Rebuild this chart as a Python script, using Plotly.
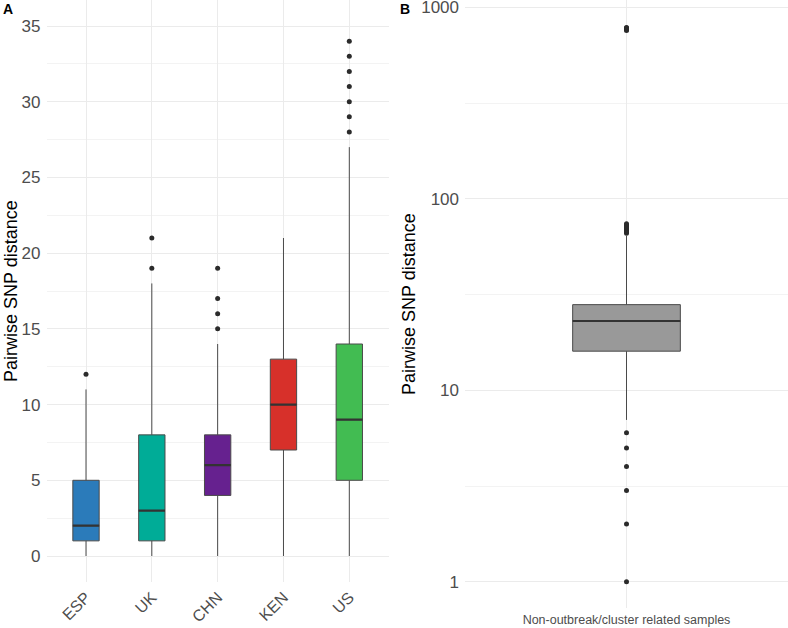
import plotly.graph_objects as go

# ---------------- Panel A data ----------------
countries = ["ESP", "UK", "CHN", "KEN", "US"]
q1_a = [1, 1, 4, 7, 5]
median_a = [2, 3, 6, 10, 9]
q3_a = [5, 8, 8, 13, 14]
whisker_low_a = [0, 0, 0, 0, 0]
whisker_high_a = [11, 18, 14, 21, 27]
outliers_esp = [12]
outliers_uk = [19, 21]
outliers_chn = [15, 16, 17, 19]
outliers_ken = []
outliers_us = [28, 29, 30, 31, 32, 33, 34]
box_colors = ["#2B7BBA", "#00AC97", "#66218F", "#D7302A", "#42BC52"]
y_ticks_a = [0, 5, 10, 15, 20, 25, 30, 35]

# ---------------- Panel B data ----------------
b_category = ["Non-outbreak/cluster related samples"]
q1_b = [16]
median_b = [23]
q3_b = [28]
whisker_low_b = [7]
whisker_high_b = [64]
outliers_b = [1, 2, 3, 4, 5, 6, 66, 67, 68, 69, 70, 71, 72, 73, 74,
              756, 765, 772, 780, 785]
y_ticks_b = [1, 10, 100, 1000]
y_tick_text_b = ["1", "10", "100", "1000"]

FONT = "Liberation Sans, Arial, sans-serif"
W, H = 788, 628
MT, MB = 0, 20
PH = H - MT - MB
TICK_COL = "#4d4d4d"
GRID = "#ebebeb"
LINE_COL = "#4a4a4a"

fig = go.Figure()

outliers_a = [outliers_esp, outliers_uk, outliers_chn, outliers_ken, outliers_us]

# Panel A boxes
for i, c in enumerate(countries):
    fig.add_trace(go.Box(
        x=[c], q1=[q1_a[i]], median=[median_a[i]], q3=[q3_a[i]],
        lowerfence=[whisker_low_a[i]], upperfence=[whisker_high_a[i]],
        width=0.4, whiskerwidth=0, boxpoints=False,
        fillcolor=box_colors[i], line=dict(color=LINE_COL, width=1),
        xaxis="x", yaxis="y", showlegend=False, hoverinfo="skip"))
# thicker medians (A)
fig.add_trace(go.Box(
    x=countries, q1=median_a, median=median_a, q3=median_a,
    lowerfence=median_a, upperfence=median_a,
    width=0.4, whiskerwidth=0, boxpoints=False,
    fillcolor="rgba(0,0,0,0)", line=dict(color="#333333", width=2.2),
    xaxis="x", yaxis="y", showlegend=False, hoverinfo="skip"))
# outliers (A)
ox, oy = [], []
for c, vals in zip(countries, outliers_a):
    for v in vals:
        ox.append(c)
        oy.append(v)
fig.add_trace(go.Scatter(
    x=ox, y=oy, mode="markers",
    marker=dict(color="#2b2b2b", size=5),
    xaxis="x", yaxis="y", showlegend=False, hoverinfo="skip"))

# Panel B box
fig.add_trace(go.Box(
    x=b_category, q1=q1_b, median=median_b, q3=q3_b,
    lowerfence=whisker_low_b, upperfence=whisker_high_b,
    width=0.4, whiskerwidth=0, boxpoints=False,
    fillcolor="#999999", line=dict(color=LINE_COL, width=1),
    xaxis="x2", yaxis="y2", showlegend=False, hoverinfo="skip"))
fig.add_trace(go.Box(
    x=b_category, q1=median_b, median=median_b, q3=median_b,
    lowerfence=median_b, upperfence=median_b,
    width=0.4, whiskerwidth=0, boxpoints=False,
    fillcolor="rgba(0,0,0,0)", line=dict(color="#333333", width=2.2),
    xaxis="x2", yaxis="y2", showlegend=False, hoverinfo="skip"))
fig.add_trace(go.Scatter(
    x=b_category * len(outliers_b), y=outliers_b, mode="markers",
    marker=dict(color="#2b2b2b", size=5),
    xaxis="x2", yaxis="y2", showlegend=False, hoverinfo="skip"))

a_bottom_px = 582
fig.update_layout(
    width=W, height=H,
    margin=dict(l=0, r=0, t=MT, b=MB, autoexpand=False),
    paper_bgcolor="white", plot_bgcolor="white",
    boxmode="overlay",
    font=dict(family=FONT, color=TICK_COL),
    xaxis=dict(
        domain=[46.5 / W, 388.8 / W], anchor="y", automargin=False,
        type="category", categoryorder="array", categoryarray=countries,
        range=[-0.6, 4.6], showgrid=True, gridcolor=GRID, gridwidth=1,
        zeroline=False, showline=False, ticks="",
        tickangle=-45, tickfont=dict(size=16, color=TICK_COL, family=FONT),
        ticklabelstandoff=2, ticklabeloverflow="allow"),
    yaxis=dict(
        domain=[(PH - a_bottom_px) / PH, 1], anchor="x", automargin=False,
        range=[-1.717, 36.717], tickvals=y_ticks_a,
        showgrid=True, gridcolor=GRID, gridwidth=1,
        zeroline=False, showline=False, ticks="",
        tickfont=dict(size=17, color=TICK_COL, family=FONT),
        ticklabelstandoff=5, ticklabeloverflow="allow",
        minor=dict(dtick=2.5, showgrid=True, gridcolor="#f3f3f3", gridwidth=0.6, ticks="")),
    xaxis2=dict(
        domain=[465 / W, 1.0], anchor="y2", automargin=False,
        type="category", range=[-0.6, 0.6],
        showgrid=True, gridcolor=GRID, gridwidth=1,
        zeroline=False, showline=False, ticks="",
        tickfont=dict(size=12.5, color=TICK_COL, family=FONT),
        ticklabelstandoff=2, ticklabeloverflow="allow"),
    yaxis2=dict(
        domain=[0, 1], anchor="x2", type="log", automargin=False,
        range=[-0.137, 3.038], tickvals=y_ticks_b, ticktext=y_tick_text_b,
        showgrid=True, gridcolor=GRID, gridwidth=1,
        zeroline=False, showline=False, ticks="",
        tickfont=dict(size=17, color=TICK_COL, family=FONT),
        ticklabelstandoff=5, ticklabeloverflow="allow",
        minor=dict(tickvals=[10 ** 0.5, 10 ** 1.5, 10 ** 2.5], showgrid=True,
                   gridcolor="#f3f3f3", gridwidth=0.6, ticks="")),
)


def px_x(p):
    return p / W


def px_y(p):
    return (PH - p) / PH


annotations = [
    dict(text="Pairwise SNP distance", x=px_x(11), y=px_y(291), textangle=-90,
         font=dict(size=18, color="black", family=FONT)),
    dict(text="Pairwise SNP distance", x=px_x(409), y=px_y(304), textangle=-90,
         font=dict(size=18, color="black", family=FONT)),
    dict(text="<b>A</b>", x=px_x(8), y=px_y(9),
         font=dict(size=14, color="black", family=FONT)),
    dict(text="<b>B</b>", x=px_x(405), y=px_y(9),
         font=dict(size=14, color="black", family=FONT)),
]
for a in annotations:
    a.update(xref="paper", yref="paper", showarrow=False,
             xanchor="center", yanchor="middle")
fig.update_layout(annotations=annotations)

fig.write_html(
    "out.html",
    config={"displayModeBar": False},
    post_script="document.body.style.margin='0';document.body.style.overflow='hidden';",
)
